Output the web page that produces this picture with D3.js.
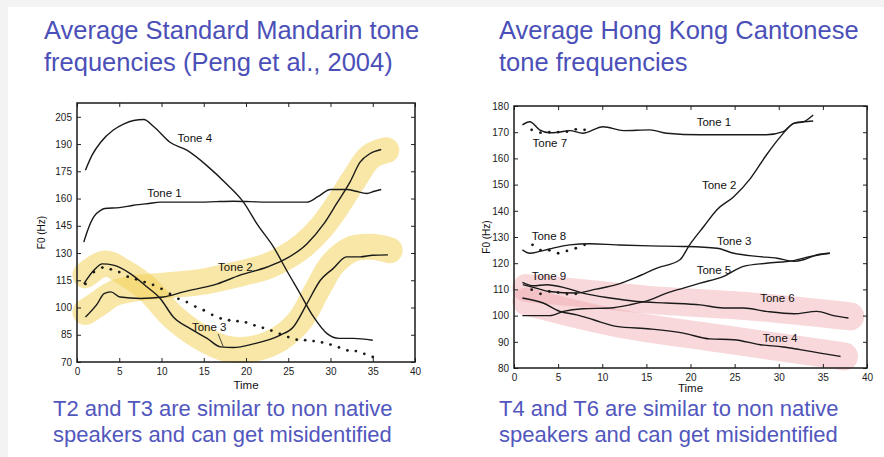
<!DOCTYPE html>
<html>
<head>
<meta charset="utf-8">
<script src="https://cdn.jsdelivr.net/npm/d3@7/dist/d3.min.js"></script>
<style>
    body { margin: 0; background: #f3f3f3; }
    svg { display: block; }
    text { font-family: "Liberation Sans", Arial, Helvetica, sans-serif; }
    .title { fill: #4b50b8; font-size: 25.5px; }
    .caption { fill: #5257bd; font-size: 22px; }
    .tick text { font-size: 10px; fill: #222; }
    .tick line { stroke: #222; stroke-width: 1; }
    .axis_label { font-size: 11.5px; fill: #111; }
    .tone_label { font-size: 11.5px; fill: #111; }
</style>
</head>
<body>
<svg id="chart" width="884" height="457"></svg>
<script>
// ---- Mandarin (left panel), points are [time, F0 Hz]
const mandTone1 = [[0.8,136],[1.3,143],[2,150],[2.8,153.5],[3.3,154.5],[5,155],[6.7,156.3],[8.5,157.3],[9.85,158],[12,158],[14.6,158],[16.5,158.3],[18.5,158.5],[20.5,158.3],[22.5,158],[25,158],[27.2,158],[28.5,161],[30,165],[32,165],[33,164],[34.3,162.8],[35.2,164],[36,165]]
const mandTone2 = [[1,94.8],[2.4,102],[3.2,107.7],[4,108.6],[5.1,105.8],[7.5,105],[10.2,105.8],[12.6,108.6],[16.6,113],[19.3,117.8],[22.5,122.3],[24.8,127],[27.2,135],[29.2,146],[30.7,157],[32.3,169],[33.5,180],[34.7,184.8],[36,187]]
const mandTone3 = [[0.8,113],[2,120.5],[3,124],[4.3,123.3],[6.3,118.7],[8.3,111.3],[9.85,105],[11.4,94.8],[13.4,88.4],[15.4,83],[17,78.3],[18.5,78],[20.9,80],[24,84.7],[25.6,89.3],[27.2,102],[28.8,115],[30.3,121.4],[31.9,127.9],[33.5,127.9],[35,128.8],[36.8,129]]
const mandTone4 = [[1,175.6],[1.8,184],[2.8,191],[4.3,197.7],[5.5,201],[6.7,203],[7.9,203.5],[9.1,199.5],[11,191],[13,186.6],[15.4,178],[17.7,168],[19.7,158],[21.3,146],[23.3,133],[24.8,120.5],[26.4,107.7],[28,94.8],[29.6,85.6],[31,83],[32.7,83],[35,82]]
const mandDots = [[1,113],[2,119.5],[3,122],[4,121],[5,119.5],[6,117],[7,115.5],[8,114],[9,112.5],[10,110.3],[11,107.5],[12,104.8],[13,103],[14,100.5],[15,98.5],[16,96],[17,94],[18,93],[19,92.5],[20,91.8],[21,90.2],[22,88.8],[23,87.3],[24,85.5],[25,83.7],[26,82.3],[27,82],[28,81.5],[29,80.8],[30,79.6],[31,78],[32,76.4],[33,76],[34,74.5],[35,72.8]]
const mandHighlight2 = [[1,97.5],[2.8,103],[4.3,107.7],[6.7,110.4],[10.6,112.2],[14.6,114],[18.5,117.8],[22.5,122.7],[24.8,127.9],[26.8,134.3],[28.8,143.5],[30.7,155.4],[32.7,170],[34.7,183],[36.6,186.6]]
const mandHighlight3 = [[1,117.8],[3.3,124.2],[5.5,119.6],[8.3,110.4],[11.4,94.8],[14.6,83.8],[17.7,77.3],[20.9,77.3],[24,82.9],[26.4,93],[28.4,109.5],[30.3,124.2],[32.7,132.5],[35,133.4],[37,131.5]]
const mandLabels = [['Tone 4',11.9,191.2],['Tone 1',8.3,160.9],['Tone 2',16.7,120.1],['Tone 3',13.6,87]]
const mandLeader = [[16.7,85.4],[17.3,78.6]]
const mandYTicks = [70,85,100,115,130,145,160,175,190,205]

// ---- Cantonese (right panel)
const cantTone1 = [[0.95,172.8],[1.8,174],[2.9,170.9],[4,169.8],[5,170],[6.3,170.6],[7.8,169.6],[10.1,172.1],[12.4,170.6],[15.4,170.9],[17.3,169.6],[21.1,169],[24.9,169],[28.6,169],[30.5,170.2],[31.7,173.4],[32.8,174],[33.9,174.3]]
const cantTone2 = [[1,111.8],[2.5,110.5],[4,109.2],[7.1,108.6],[9.3,110.1],[11.6,111.8],[13.9,114.7],[16.2,118.1],[18.8,121.3],[19.9,127],[21.5,134],[23,140.4],[24.9,145.4],[26.8,152.4],[28.6,161.3],[30.2,168.3],[31.7,173.4],[32.8,174],[33.9,176.6]]
const cantTone3 = [[0.95,125.1],[1.8,123.8],[2.9,124.5],[4,125.4],[6.3,127],[8.6,127.4],[11.6,127],[15.4,126.6],[19.2,126.4],[23,125.7],[24.9,123.8],[27.5,122.6],[29.8,121.9],[31.7,120.7],[32.8,121.3],[34.3,123.2],[35.8,123.8]]
const cantTone4 = [[0.95,106.7],[3.3,104.8],[5.2,101.6],[7.1,100.3],[9,98.4],[11.6,95.9],[15.4,94.9],[19.2,93.3],[22.2,91.1],[24.9,90.8],[27.9,88.9],[30.5,88],[32.4,87],[34.7,85.7],[37,84.4]]
const cantTone5 = [[0.95,100],[4.05,100],[5.6,101.6],[7.8,102.6],[10.9,102.9],[13.1,104.1],[15.4,106],[17.3,108.6],[19.2,110.5],[21.1,112.4],[23.7,114.9],[26,118.8],[28.6,120],[31.7,121],[33.6,122.6],[35.8,123.8]]
const cantTone6 = [[0.95,112.7],[2.2,111.4],[3.7,111.8],[5.9,110.5],[7.8,108.6],[10.9,106.7],[13.9,105.4],[17.3,104.8],[21.1,104.1],[23.7,102.9],[26,102.9],[28.6,101.6],[31.7,100.7],[34.3,101.6],[36.2,100],[37.9,99.1]]
const cantTone7Dots = [[2,170.9],[3,169.8],[4,170],[5,170],[6,170.2],[7,171.1],[8,170.9]]
const cantTone8Dots = [[2.1,127],[3,125],[4,124.9],[5,123.8],[6,124.7],[7,125.7],[8,127]]
const cantTone9Dots = [[2,109.9],[3,108.3],[4,109.2],[5,108.8],[6,108.2],[7,108.3]]
const cantHighlight6 = [[1.4,110.5],[8,108.5],[15.4,106],[26.8,103.5],[38.1,99.7]]
const cantHighlight4 = [[1.4,105.4],[11.6,97.2],[23,91.4],[37.4,84.4]]
const cantLabels = [['Tone 1',20.7,172.4],['Tone 7',2.1,164.4],['Tone 2',21.3,148.4],['Tone 8',2,128.9],['Tone 3',23,127],['Tone 5',20.7,116],['Tone 9',2,113.7],['Tone 6',27.9,105.3],['Tone 4',28.2,90]]
const cantYTicks = [80,90,100,110,120,130,140,150,160,170,180]

const xTicks = [0,5,10,15,20,25,30,35,40]

let svg = d3.select('#chart')

// white slide area
svg.append('rect')
    .attr('x', 8).attr('y', 7)
    .attr('width', 884 - 8).attr('height', 457 - 7)
    .attr('fill', '#ffffff')

function addTitle(x, lines, cls, y0, lh) {
    let t = svg.append('text').attr('class', cls)
    lines.forEach((l, i) => {
        t.append('tspan').attr('x', x).attr('y', y0 + i * lh).text(l)
    })
}

addTitle(44, ['Average Standard Mandarin tone', 'frequencies (Peng et al., 2004)'], 'title', 39, 32)
addTitle(499, ['Average Hong Kong Cantonese', 'tone frequencies'], 'title', 39, 32)
addTitle(53, ['T2 and T3 are similar to non native', 'speakers and can get misidentified'], 'caption', 416, 25.5)
addTitle(499, ['T4 and T6 are similar to non native', 'speakers and can get misidentified'], 'caption', 416, 25.5)

function drawPanel(p) {
    let g = svg.append('g')
    let x = d3.scaleLinear().domain([0, 40]).range([p.left, p.right])
    let y = d3.scaleLinear().domain(p.yDomain).range([p.bottom, p.top])
    let line = d3.line().x(d => x(d[0])).y(d => y(d[1])).curve(d3.curveMonotoneX)
    let smooth = d3.line().x(d => x(d[0])).y(d => y(d[1])).curve(d3.curveCatmullRom.alpha(0.5))

    // highlight bands go under the curves
    p.highlights.forEach(h => {
        g.append('path')
            .datum(h)
            .attr('d', smooth)
            .attr('fill', 'none')
            .attr('stroke', p.hlColor)
            .attr('stroke-opacity', p.hlOpacity)
            .attr('stroke-width', p.hlWidth)
            .attr('stroke-linecap', 'round')
            .attr('stroke-linejoin', 'round')
    })

    p.lines.forEach(l => {
        g.append('path')
            .datum(l)
            .attr('d', line)
            .attr('fill', 'none')
            .attr('stroke', '#1a1a1a')
            .attr('stroke-width', 1.4)
    })

    p.dots.forEach(ds => {
        g.append('g')
            .selectAll('circle')
            .data(ds)
            .enter()
            .append('circle')
            .attr('cx', d => x(d[0]))
            .attr('cy', d => y(d[1]))
            .attr('r', 1.4)
            .attr('fill', '#1a1a1a')
    })

    if (p.leader) {
        g.append('path')
            .datum(p.leader)
            .attr('d', d3.line().x(d => x(d[0])).y(d => y(d[1])))
            .attr('stroke', '#1a1a1a')
            .attr('stroke-width', 0.8)
    }

    g.append('g')
        .selectAll('text')
        .data(p.labels)
        .enter()
        .append('text')
        .attr('class', 'tone_label')
        .attr('x', d => x(d[1]))
        .attr('y', d => y(d[2]))
        .text(d => d[0])

    // axes, matlab style: inward ticks on every side
    let axL = g.append('g').attr('transform', `translate(${p.left}, 0)`)
        .call(d3.axisLeft(y).tickValues(p.yTicks).tickSizeInner(-4).tickSizeOuter(0).tickPadding(5))
    let axB = g.append('g').attr('transform', `translate(0, ${p.bottom})`)
        .call(d3.axisBottom(x).tickValues(xTicks).tickSizeInner(-4).tickSizeOuter(0).tickPadding(6))
    let axR = g.append('g').attr('transform', `translate(${p.right}, 0)`)
        .call(d3.axisRight(y).tickValues(p.yTicks).tickSizeInner(-4).tickSizeOuter(0).tickFormat(''))
    let axT = g.append('g').attr('transform', `translate(0, ${p.top})`)
        .call(d3.axisTop(x).tickValues(xTicks).tickSizeInner(-4).tickSizeOuter(0).tickFormat(''))
    ;[axL, axB, axR, axT].forEach(a => a.select('.domain').remove())

    g.append('rect')
        .attr('x', p.left).attr('y', p.top)
        .attr('width', p.right - p.left).attr('height', p.bottom - p.top)
        .attr('fill', 'none')
        .attr('stroke', '#1a1a1a')
        .attr('stroke-width', 1.5)

    g.append('text')
        .attr('class', 'axis_label')
        .attr('text-anchor', 'middle')
        .attr('x', (p.left + p.right) / 2 + p.timeDx)
        .attr('y', p.bottom + p.timeDy)
        .text('Time')

    g.append('text')
        .attr('class', 'axis_label')
        .attr('text-anchor', 'middle')
        .attr('transform', `translate(${p.left - p.f0Dx}, ${(p.top + p.bottom) / 2}) rotate(-90)`)
        .style('font-size', '10px')
        .text('F0 (Hz)')
}

drawPanel({
    left: 77, right: 415, top: 103, bottom: 362,
    yDomain: [70, 212.6], yTicks: mandYTicks,
    lines: [mandTone1, mandTone2, mandTone3, mandTone4],
    dots: [mandDots],
    highlights: [mandHighlight2, mandHighlight3],
    hlColor: '#f2cf4f', hlOpacity: 0.5, hlWidth: 26,
    labels: mandLabels, leader: mandLeader,
    timeDx: 0, timeDy: 27, f0Dx: 32
})

drawPanel({
    left: 514, right: 867, top: 106, bottom: 368,
    yDomain: [80, 180], yTicks: cantYTicks,
    lines: [cantTone1, cantTone2, cantTone3, cantTone4, cantTone5, cantTone6],
    dots: [cantTone7Dots, cantTone8Dots, cantTone9Dots],
    highlights: [cantHighlight6, cantHighlight4],
    hlColor: '#f0a9ae', hlOpacity: 0.45, hlWidth: 28,
    labels: cantLabels, leader: null,
    timeDx: 0, timeDy: 24, f0Dx: 24
})
</script>
</body>
</html>
